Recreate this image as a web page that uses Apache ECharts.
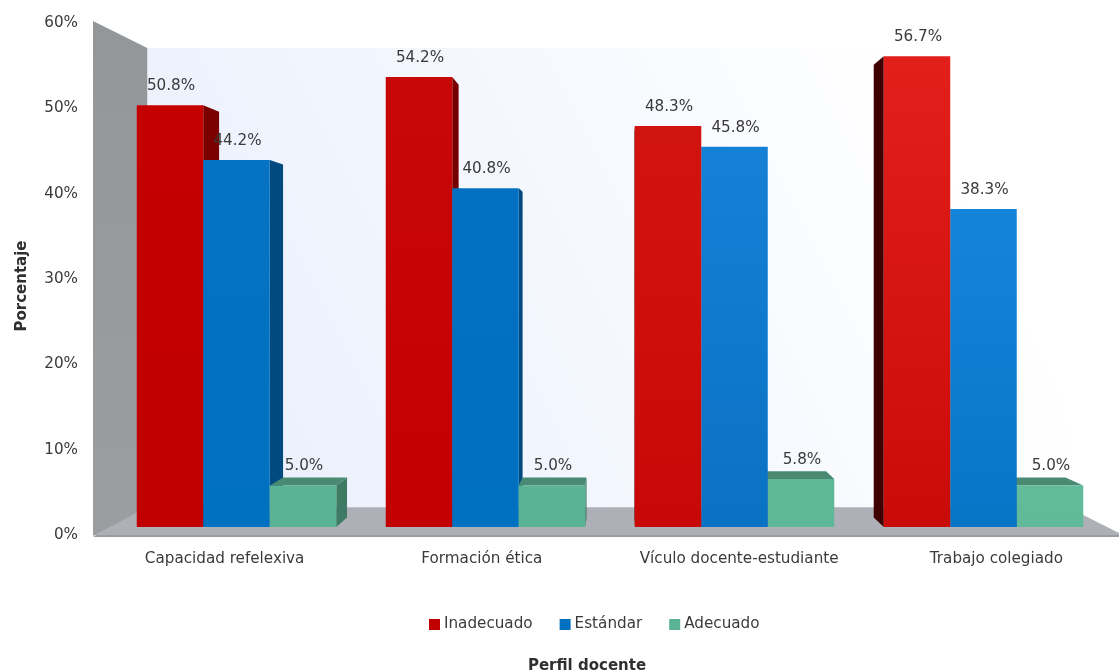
<!DOCTYPE html>
<html><head><meta charset="utf-8">
<style>html,body{margin:0;padding:0;background:#fff}#c{width:1119px;height:672px}</style>
<script src="https://cdn.jsdelivr.net/npm/echarts@6/dist/echarts.min.js"></script>
</head><body><div id="c"></div>
<script>
const categories = ['Capacidad refelexiva','Formación ética','Vículo docente-estudiante','Trabajo colegiado'];
const inadecuado = [50.8,54.2,48.3,56.7];
const estandar = [44.2,40.8,45.8,38.3];
const adecuado = [5.0,5.0,5.8,5.0];
const yTicks = {min:0,max:60,interval:10};

const FONT='"DejaVu Sans"';
const FS=15.2;
const TXT='#3a3a3a';
const VP=[620,277], DEPTH=0.038;
const WALL_VP=[620,283], WALL_DEPTH=0.103;
const BAR_RATIO=66.5/249;
const styles=[
 {name:'Inadecuado',color:'#c00000',top:['#c40000','#c80806','#d21410','#e21f1b'],bot:['#c00000','#c20000','#c80806','#c90b08'],side:['#7a0000','#760000','#600000','#3f0000'],cap:'#d84040'},
 {name:'Estándar',color:'#0070c0',top:['#0672c4','#0470c2','#1480d6','#1484da'],bot:['#0070c0','#0070c0','#0a72c4','#0874c6'],side:['#004a80','#004a80','#004a80','#004a80'],cap:'#3a90d8'},
 {name:'Adecuado',color:'#5ab394',top:['#5ab394','#5ab394','#5eb898','#62bc9b'],bot:['#5ab394','#5ab394','#5eb898','#60ba99'],side:['#3e7a64','#3e7a64','#3e7a64','#3e7a64'],cap:'#4a8a72'}
];
const back=(p)=>[p[0]+(VP[0]-p[0])*DEPTH,p[1]+(VP[1]-p[1])*DEPTH];
const wback=(p)=>[p[0]+(WALL_VP[0]-p[0])*WALL_DEPTH,p[1]+(WALL_VP[1]-p[1])*WALL_DEPTH];
const poly=(pts,fill,z2)=>({type:'polygon',shape:{points:pts},style:{fill:fill},z2:z2,silent:true});

function barSeries(values,k){
  const st=styles[k];
  return {
    type:'custom',name:st.name,xAxisIndex:2,yAxisIndex:2,
    itemStyle:{color:st.color},
    data:values.map((v,i)=>[i,v]),
    renderItem:(params,api)=>{
      const i=api.value(0),v=api.value(1);
      const band=api.size([1,0])[0],w=band*BAR_RATIO;
      const c=api.coord([i,v]),b=api.coord([i,0]);
      const xl=c[0]+(k-1.5)*w,xr=xl+w,yt=c[1],yb=b[1];
      const z=1000-Math.abs((xl+xr)/2-VP[0])/2;
      const kids=[];
      const tl=[xl,yt],tr=[xr,yt],bl=[xl,yb],br=[xr,yb];
      if(xr<VP[0]) kids.push(poly([tr,back(tr),back(br),br],st.side[i],z));
      else if(xl>VP[0]) kids.push(poly([tl,back(tl),back(bl),bl],st.side[i],z));
      if(yt>VP[1]) kids.push(poly([tl,tr,back(tr),back(tl)],st.cap,z));
      kids.push({type:'rect',shape:{x:xl,y:yt,width:w,height:yb-yt},silent:true,z2:z+1,
        style:{fill:new echarts.graphic.LinearGradient(0,0,0,1,[{offset:0,color:st.top[i]},{offset:1,color:st.bot[i]}])}});
      kids.push({type:'text',z2:5000,silent:true,style:{text:v.toFixed(1)+'%',x:(xl+xr)/2+1,y:yt-19,align:'center',verticalAlign:'middle',
        fill:TXT,font:FS+'px '+FONT}});
      return {type:'group',children:kids};
    }
  };
}

const frame={
  type:'custom',xAxisIndex:0,yAxisIndex:0,silent:true,z:1,
  data:[[0,0]],legendHoverLink:false,
  renderItem:(params,api)=>{
    const a=api.coord([0,yTicks.max]),d=api.coord([1,yTicks.min]);
    const tl=[a[0],a[1]],bl=[a[0],d[1]],br=[d[0],d[1]],tr=[d[0],a[1]];
    const btl=wback(tl),bbl=wback(bl),bbr=wback(br),btr=wback(tr);
    return {type:'group',children:[
      poly([btl,btr,bbr,bbl],new echarts.graphic.LinearGradient(0,1,1,0,[{offset:0,color:'#e9eefc'},{offset:0.55,color:'#f6f9fe'},{offset:0.85,color:'#ffffff'},{offset:1,color:'#ffffff'}]),1),
      poly([[bl[0]+3,bl[1]+2],[br[0],br[1]+2],[br[0],br[1]+4],[bl[0],bl[1]+4]],'#9b9c9f',2),
      poly([[bl[0],bl[1]+2],bbl,bbr,br,[br[0],br[1]+2]],'#adb0b6',2),
      poly([tl,btl,bbl,[bl[0],bl[1]+3]],new echarts.graphic.LinearGradient(0,0,0,1,[{offset:0,color:'#94979a'},{offset:1,color:'#9b9ea1'}]),3)
    ]};
  }
};

const chart=echarts.init(document.getElementById('c'),null,{renderer:'canvas'});
chart.setOption({
  animation:false,backgroundColor:'#fff',
  textStyle:{fontFamily:FONT,color:TXT},
  title:{text:'Perfil docente',left:582,top:654,textAlign:'center',
    textStyle:{fontFamily:FONT,fontSize:15,fontWeight:'bold',color:'#2f2f2f'}},
  legend:{left:424,top:612,itemWidth:11,itemHeight:11,itemGap:27,icon:'rect',
    data:styles.map(s=>s.name),
    textStyle:{fontFamily:FONT,fontSize:FS,color:TXT,padding:[0,0,0,-1]}},
  grid:[
    {left:93,width:1026,top:21,height:512,outerBoundsMode:'none'},
    {left:96,width:1029,top:23,height:512,outerBoundsMode:'none'},
    {left:112,width:996,top:21,height:512,outerBoundsMode:'none'}
  ],
  xAxis:[
    {gridIndex:0,type:'value',min:0,max:1,show:false},
    {gridIndex:1,type:'category',data:categories,axisLine:{show:false},axisTick:{show:false},
      axisLabel:{interval:0,margin:17,fontFamily:FONT,fontSize:FS,color:TXT}},
    {gridIndex:2,type:'category',data:categories,show:false}
  ],
  yAxis:[
    {gridIndex:0,type:'value',min:yTicks.min,max:yTicks.max,interval:yTicks.interval,show:false},
    {gridIndex:1,type:'value',min:yTicks.min,max:yTicks.max,interval:yTicks.interval,
      name:'Porcentaje',nameLocation:'middle',nameGap:66,
      nameTextStyle:{fontFamily:FONT,fontSize:15,fontWeight:'bold',color:'#2f2f2f',padding:[0,14,0,0]},
      axisLine:{show:false},axisTick:{show:false},splitLine:{show:false},
      axisLabel:{formatter:'{value}%',margin:18,fontFamily:FONT,fontSize:FS,color:TXT}},
    {gridIndex:2,type:'value',show:false,min:-0.72,max:60.96,splitLine:{show:false}}
  ],
  series:[frame,barSeries(inadecuado,0),barSeries(estandar,1),barSeries(adecuado,2)]
});
</script></body></html>
